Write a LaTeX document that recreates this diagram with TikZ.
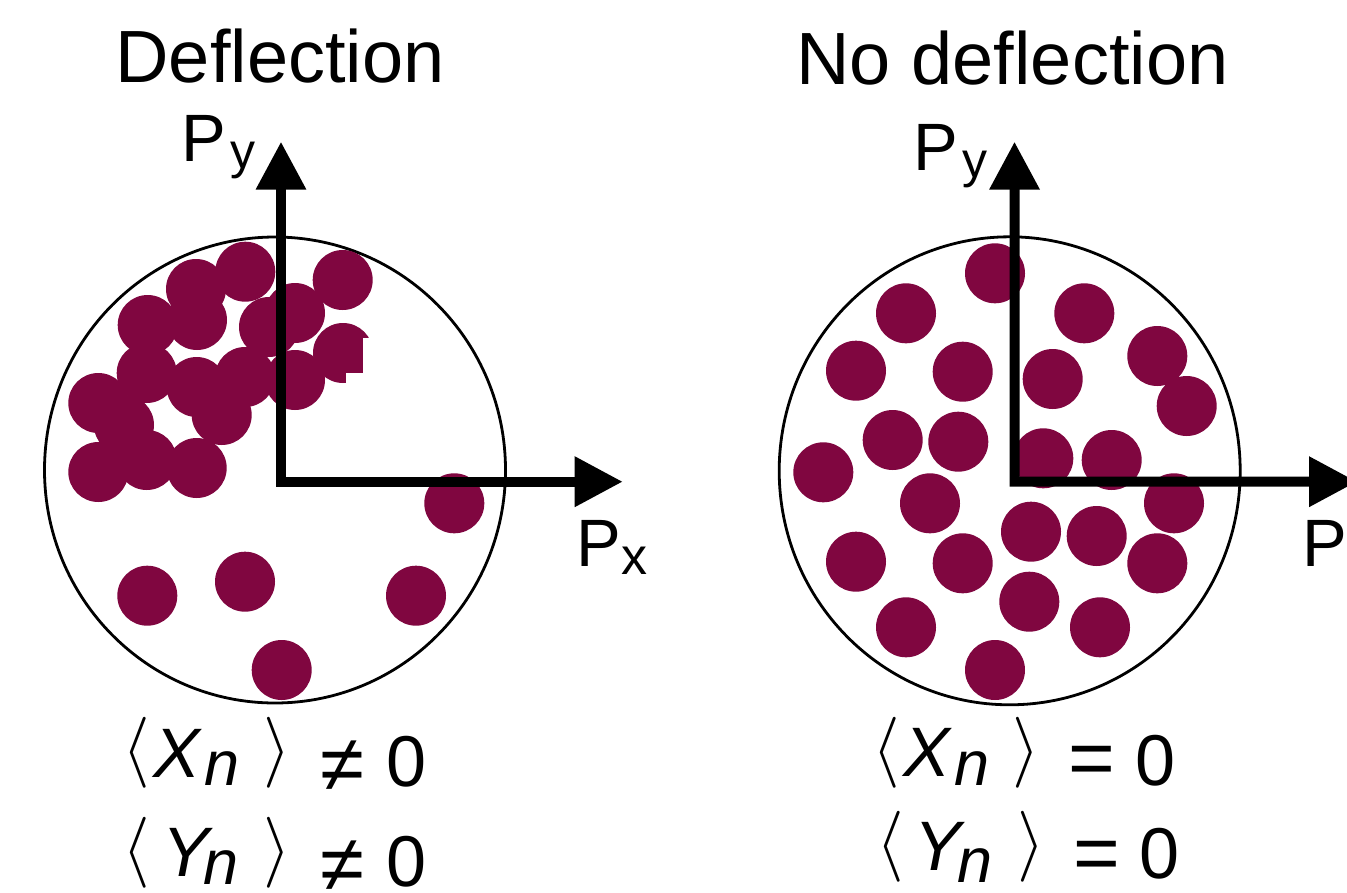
\documentclass[tikz,border=0pt]{standalone}
\usepackage{fix-cm}
\usepackage{fontspec}
\setmainfont{Liberation Sans}
\usetikzlibrary{arrows.meta}
\definecolor{dotc}{RGB}{128,6,64}
\tikzset{
  dot/.style={fill=dotc, draw=none},
  ring/.style={draw=black, line width=2.8pt},
  axisline/.style={draw=black, line width=10pt, line join=miter,
    {Triangle[length=48pt,width=48pt]}-{Triangle[length=48pt,width=48pt]}},
  title/.style={inner sep=0pt, anchor=base, font=\fontsize{74}{80}\selectfont},
  plab/.style={inner sep=0pt, anchor=base west, font=\fontsize{67}{70}\selectfont},
  g/.style={inner sep=0pt, anchor=center},
  gbr/.style={g, font=\fontsize{71}{71}\selectfont},
  git/.style={g, font=\fontsize{70}{70}\selectfont\itshape},
  gn/.style={g, font=\fontsize{63}{63}\selectfont\itshape},
  grel/.style={g, font=\fontsize{80}{80}\selectfont},
  gzero/.style={g, font=\fontsize{72}{72}\selectfont},
}
\begin{document}
\begin{tikzpicture}[x=1pt, y=-1pt]
\clip (0,0) rectangle (1347,892);
\fill[white] (0,0) rectangle (1347,892);

% titles
\node[title] (t1) at (280,82) {Deflection};
\node[title] (t2) at (1012.5,84) {No deflection};

% ---------- left panel ----------
\draw[ring] (275,470) ellipse[x radius=230.5, y radius=233];
\foreach \x/\y in {245.3/271.7, 196/289, 197/320, 147.7/325, 342.7/280, 295/313,
  343/353, 146.7/373, 196.7/387, 221.7/415, 245/377, 295/380, 269/327,
  98.3/403, 146.7/460, 98.3/472, 196.7/468, 124/425,
  454.3/503.3, 147.3/595.7, 245/581.7, 416/595.7, 281.7/670}
  \fill[dot] (\x,\y) circle[radius=30];
\fill[white] (362.7,338) rectangle (378,373.3);
\fill[white] (346,373.3) rectangle (378,388);
\coordinate (Lo) at (281,481.7);
\coordinate (Ly) at (281,141.7);
\coordinate (Lx) at (622.7,481.7);
\draw[axisline] (Ly) -- (Lo) -- (Lx);
\node[plab] (Lpy) at (181.7,161.7) {P\hspace{4pt}\raisebox{-7pt}{\fontsize{50}{50}\selectfont y}};
\node[plab] (Lpx) at (576,566.7) {P\hspace{1pt}\raisebox{-8pt}{\fontsize{52}{52}\selectfont x}};

% ---------- right panel ----------
\draw[ring] (1009.7,470.8) ellipse[x radius=230.5, y radius=234];
\foreach \x/\y in {995/273.3, 906/313.3, 1084.3/313.3, 856/370.7, 962.7/371.7,
  1052.7/379, 1157.3/356, 1186.7/406, 892.7/440, 958.3/441.7, 823.3/472.3,
  1043.3/458.3, 1111.7/460, 930/503.3, 1174/503.3, 1031/531.7, 1096.7/536,
  856/561.7, 962.7/563.3, 1157.3/563.3, 1029.3/601.7, 906/627.3, 1100/627.3,
  995/670}
  \fill[dot] (\x,\y) circle[radius=30];
\coordinate (Ro) at (1014.7,481.7);
\coordinate (Ry) at (1014.5,141.7);
\coordinate (Rx) at (1357,481.7);
\draw[axisline] (Ry) -- (Ro) -- (Rx);
\node[plab] (Rpy) at (913.5,170.7) {P\hspace{4pt}\raisebox{-7pt}{\fontsize{50}{50}\selectfont y}};
\node[plab] (Rpx) at (1302,566.7) {P\hspace{1pt}\raisebox{-8pt}{\fontsize{52}{52}\selectfont x}};

% ---------- left formulas ----------
\node[gbr] (a1) at (136.5,752.5) {$\langle$};
\node[git] (a2) at (177,753) {X};
\node[gn]  (a3) at (222,768.5) {n};
\node[gbr] (a4) at (277.5,752.5) {$\rangle$};
\node[grel] (a5) at (342.5,766.5) {≠};
\node[gzero] (a6) at (406.5,762) {0};

\node[gbr] (b1) at (136.5,852.5) {$\langle$};
\node[git] (b2) at (185.5,852.5) {Y};
\node[gn]  (b3) at (221,868) {n};
\node[gbr] (b4) at (277.5,852.5) {$\rangle$};
\node[grel] (b5) at (342.5,866.5) {≠};
\node[gzero] (b6) at (406.5,862) {0};

% ---------- right formulas ----------
\node[gbr] (c1) at (886,752.5) {$\langle$};
\node[git] (c2) at (927,752.5) {X};
\node[gn]  (c3) at (972,768.5) {n};
\node[gbr] (c4) at (1026.5,752.5) {$\rangle$};
\node[grel] (c5) at (1092,765.5) {=};
\node[gzero] (c6) at (1155.5,761) {0};

\node[gbr] (d1) at (890,846.5) {$\langle$};
\node[git] (d2) at (938,846.5) {Y};
\node[gn]  (d3) at (975,865.5) {n};
\node[gbr] (d4) at (1031,846.5) {$\rangle$};
\node[grel] (d5) at (1097,860.5) {=};
\node[gzero] (d6) at (1160,853.5) {0};
\end{tikzpicture}
\end{document}
